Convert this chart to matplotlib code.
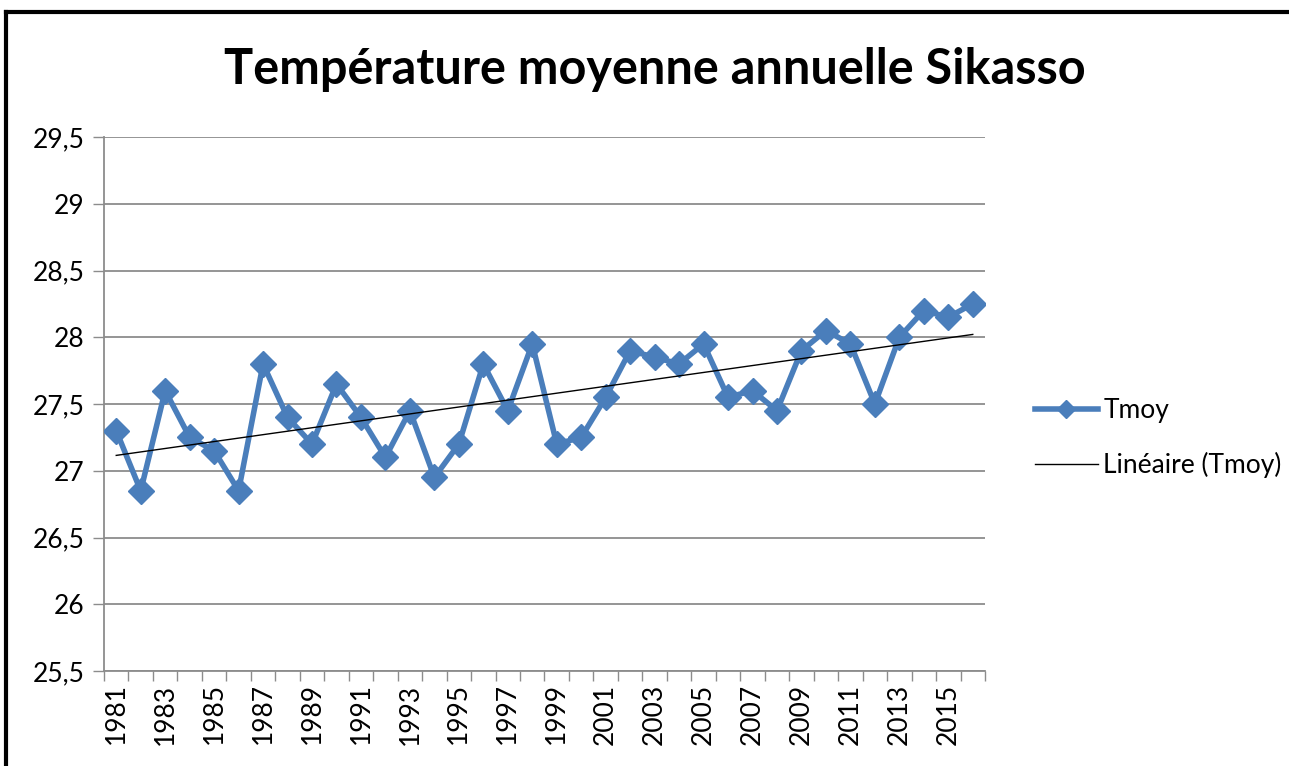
import matplotlib
matplotlib.use("Agg")
import matplotlib.pyplot as plt
import numpy as np
from matplotlib.ticker import FuncFormatter, FixedLocator, MultipleLocator

# Data
years = list(range(1981, 2017))
tmoy = [27.3, 26.85, 27.6, 27.25, 27.15, 26.85, 27.8, 27.4, 27.2, 27.65,
        27.4, 27.1, 27.45, 26.95, 27.2, 27.8, 27.45, 27.95, 27.2, 27.25,
        27.55, 27.9, 27.85, 27.8, 27.95, 27.55, 27.6, 27.45, 27.9, 28.05,
        27.95, 27.5, 28.0, 28.2, 28.15, 28.25]
title = "Température moyenne annuelle Sikasso"
series_label = "Tmoy"
trend_label = "Linéaire (Tmoy)"

BLUE = "#4a7ebb"
GRID = "#8c8c8c"

plt.rcParams["font.family"] = ["Lato", "DejaVu Sans"]

W, H = 1289, 766
fig = plt.figure(figsize=(W / 100, H / 100), dpi=100)

# plot area in pixels: left 104, right 985, top 137, bottom 671
ax = fig.add_axes([104 / W, 1 - 671 / H, (985 - 104) / W, (671 - 137) / H])

x = np.arange(len(years))
ax.plot(x, tmoy, color=BLUE, lw=4, marker="D", ms=13, mec=BLUE, mfc=BLUE,
        label=series_label, zorder=3)

# linear trend
coef = np.polyfit(x, tmoy, 1)
ax.plot(x, np.polyval(coef, x), color="black", lw=1, label=trend_label, zorder=4)

ax.set_xlim(-0.5, len(years) - 0.5)
ax.set_ylim(25.5, 29.5)
ax.yaxis.set_major_locator(MultipleLocator(0.5))
ax.yaxis.set_major_formatter(FuncFormatter(lambda v, p: f"{v:g}".replace(".", ",")))
ax.grid(axis="y", color=GRID, lw=1.3)
ax.set_axisbelow(True)

# category ticks at bin boundaries, labels every other year
ax.xaxis.set_major_locator(FixedLocator(np.arange(-0.5, len(years), 1)))
ax.set_xticklabels([])
ax.xaxis.set_minor_locator(FixedLocator(x[::2]))
ax.set_xticklabels([str(y) for y in years[::2]], minor=True, rotation=90)
ax.tick_params(axis="x", which="major", length=7, color=GRID, width=1)
ax.tick_params(axis="x", which="minor", length=0, labelsize=19, pad=9)
ax.tick_params(axis="y", length=8, color=GRID, width=1, labelsize=19, pad=6)

for s in ["top", "right"]:
    ax.spines[s].set_visible(False)
for s in ["left", "bottom"]:
    ax.spines[s].set_color(GRID)
    ax.spines[s].set_linewidth(1.3)

fig.text(655 / W, 1 - 70 / H, title, ha="center", va="center",
         fontsize=35, fontweight="bold")

fig.legend(loc="center left", bbox_to_anchor=(1024 / W, 1 - 438 / H),
           frameon=False, fontsize=19, handlelength=2.4, handletextpad=0.2,
           labelspacing=1.1, borderaxespad=0, markerscale=0.7)

# chart frame (top and left edges visible)
fig.add_artist(plt.Line2D([6 / W, 1], [1 - 12 / H, 1 - 12 / H], color="black", lw=3,
                          transform=fig.transFigure))
fig.add_artist(plt.Line2D([6 / W, 6 / W], [0, 1 - 12 / H], color="black", lw=3,
                          transform=fig.transFigure))

fig.savefig("out.png", dpi=100)
